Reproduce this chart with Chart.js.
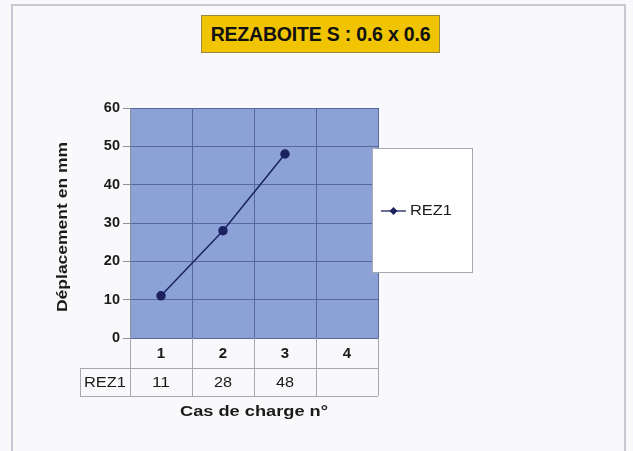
<!DOCTYPE html>
<html lang="fr">
<head>
<meta charset="UTF-8">
<title>REZABOITE S : 0.6 x 0.6</title>
<script src="https://cdn.jsdelivr.net/npm/chart.js"></script>
<style>
  html, body { margin: 0; padding: 0; background: #f9f9fc; }
  #cadre {
    position: relative; width: 633px; height: 451px; overflow: hidden;
    font-family: "Liberation Sans", Arial, sans-serif;
  }
  #bord {
    position: absolute; left: 11px; top: 4px; width: 611px; height: 460px;
    border: 2px solid #c6c9d2;
  }
  #titre {
    position: absolute; left: 201px; top: 15px; width: 237px; height: 36px;
    background: #f0c400; border: 1px solid #9a8a40;
    font-weight: bold; font-size: 19.5px; color: #111;
    text-align: center; line-height: 37px; letter-spacing: -0.2px;
  }
  canvas { position: absolute; left: 0; top: 0; }
</style>
</head>
<body>
<div id="cadre">
  <div id="bord"></div>
  <div id="titre">REZABOITE S : 0.6 x 0.6</div>
  <canvas id="graphique" width="633" height="451"></canvas>
</div>

<script>
  // données
  const casDeCharge = ['1', '2', '3', '4'];
  const rez1 = [11, 28, 48, null];
  const nomSerie = 'REZ1';
  const titreX = 'Cas de charge n°';
  const titreY = 'Déplacement en mm';

  const couleurLigne = '#1c2260';
  const police = '"Liberation Sans", Arial, sans-serif';

  // texte étiré en largeur (le rendu d'origine est plus large)
  function texteEtire(ctx, txt, x, y, largeurVoulue) {
    const w = ctx.measureText(txt).width;
    const k = largeurVoulue / w;
    ctx.save();
    ctx.translate(x, y);
    ctx.scale(k, 1);
    ctx.fillText(txt, 0, 0);
    ctx.restore();
  }

  // fond bleu de la zone de tracé + tableau de données + légende
  const decor = {
    id: 'decor',
    beforeDraw(chart) {
      const a = chart.chartArea;
      const ctx = chart.ctx;
      ctx.save();
      ctx.fillStyle = '#8ca2d6';
      ctx.fillRect(a.left, a.top, a.right - a.left, a.bottom - a.top);
      ctx.restore();
    },
    afterDraw(chart) {
      const a = chart.chartArea;
      const ctx = chart.ctx;
      const x = chart.scales.x;
      const largeur = (a.right - a.left) / casDeCharge.length;
      const y1 = a.bottom, y2 = a.bottom + 30, y3 = a.bottom + 58;
      const gauche = a.left - 50;

      ctx.save();
      ctx.strokeStyle = '#a6a9b2';
      ctx.lineWidth = 1;
      ctx.beginPath();
      ctx.moveTo(a.left, y2 + 0.5); ctx.lineTo(a.right, y2 + 0.5);
      ctx.moveTo(gauche, y2 + 0.5); ctx.lineTo(a.left, y2 + 0.5);
      ctx.moveTo(gauche, y3 + 0.5); ctx.lineTo(a.right, y3 + 0.5);
      for (let i = 0; i <= casDeCharge.length; i++) {
        const px = Math.round(a.left + i * largeur) + 0.5;
        ctx.moveTo(px, y1); ctx.lineTo(px, y3);
      }
      ctx.moveTo(gauche + 0.5, y2); ctx.lineTo(gauche + 0.5, y3);
      ctx.stroke();

      ctx.fillStyle = '#1a1a1a';
      ctx.textAlign = 'center';
      ctx.textBaseline = 'middle';
      casDeCharge.forEach((c, i) => {
        const cx = x.getPixelForValue(i);
        ctx.font = 'bold 15px ' + police;
        ctx.fillText(c, cx, (y1 + y2) / 2 + 1);
        ctx.font = '15px ' + police;
        if (rez1[i] !== null) texteEtire(ctx, String(rez1[i]), cx, (y2 + y3) / 2 + 1, 18);
      });
      ctx.font = '15px ' + police;
      texteEtire(ctx, nomSerie, (gauche + a.left) / 2, (y2 + y3) / 2 + 1, 42);

      // titres des axes
      ctx.font = 'bold 14px ' + police;
      texteEtire(ctx, titreX, (a.left + a.right) / 2, y3 + 16, 148);
      ctx.save();
      ctx.translate(63, (a.top + a.bottom) / 2 + 4);
      ctx.rotate(-Math.PI / 2);
      texteEtire(ctx, titreY, 0, 0, 170);
      ctx.restore();

      // légende
      const lx = 372, ly = 148, lw = 100, lh = 124;
      ctx.fillStyle = '#ffffff';
      ctx.fillRect(lx, ly, lw, lh);
      ctx.strokeStyle = '#a6a9b2';
      ctx.strokeRect(lx + 0.5, ly + 0.5, lw, lh);
      const my = ly + lh / 2 + 1;
      ctx.strokeStyle = couleurLigne;
      ctx.lineWidth = 1.3;
      ctx.beginPath();
      ctx.moveTo(lx + 9, my); ctx.lineTo(lx + 34, my);
      ctx.stroke();
      ctx.fillStyle = couleurLigne;
      ctx.beginPath();
      ctx.moveTo(lx + 21.5, my - 4); ctx.lineTo(lx + 25.5, my);
      ctx.lineTo(lx + 21.5, my + 4); ctx.lineTo(lx + 17.5, my);
      ctx.closePath(); ctx.fill();
      ctx.fillStyle = '#1a1a1a';
      ctx.textAlign = 'left';
      ctx.font = '15px ' + police;
      ctx.save();
      ctx.translate(lx + 38, my);
      ctx.scale(42 / ctx.measureText(nomSerie).width, 1);
      ctx.fillText(nomSerie, 0, 0);
      ctx.restore();
      ctx.restore();
    }
  };

  new Chart(document.getElementById('graphique'), {
    type: 'line',
    data: {
      labels: casDeCharge,
      datasets: [{
        label: nomSerie,
        data: rez1,
        borderColor: couleurLigne,
        backgroundColor: couleurLigne,
        borderWidth: 1.5,
        pointStyle: 'circle',
        pointRadius: 4,
        pointBackgroundColor: couleurLigne,
        tension: 0
      }]
    },
    options: {
      responsive: false,
      animation: false,
      layout: { padding: { left: 48, right: 255, top: 108, bottom: 113 } },
      plugins: {
        legend: { display: false },
        title: { display: false },
        tooltip: { enabled: false }
      },
      scales: {
        x: {
          offset: true,
          grid: { offset: true, color: '#56689a', lineWidth: 1, drawTicks: false },
          border: { display: true, color: '#56689a' },
          ticks: { display: false },
          afterFit(s) { s.height = 0; }
        },
        y: {
          min: 0,
          max: 60,
          ticks: {
            stepSize: 10,
            color: '#1a1a1a',
            padding: 3,
            font: { family: police, size: 14.5, weight: 'bold' }
          },
          grid: { color: '#56689a', lineWidth: 1, tickLength: 7, tickColor: '#8a8f9c' },
          border: { display: true, color: '#8a8f9c' },
          title: { display: false },
          afterFit(s) { s.width = 82; }
        }
      }
    },
    plugins: [decor]
  });
</script>
</body>
</html>
